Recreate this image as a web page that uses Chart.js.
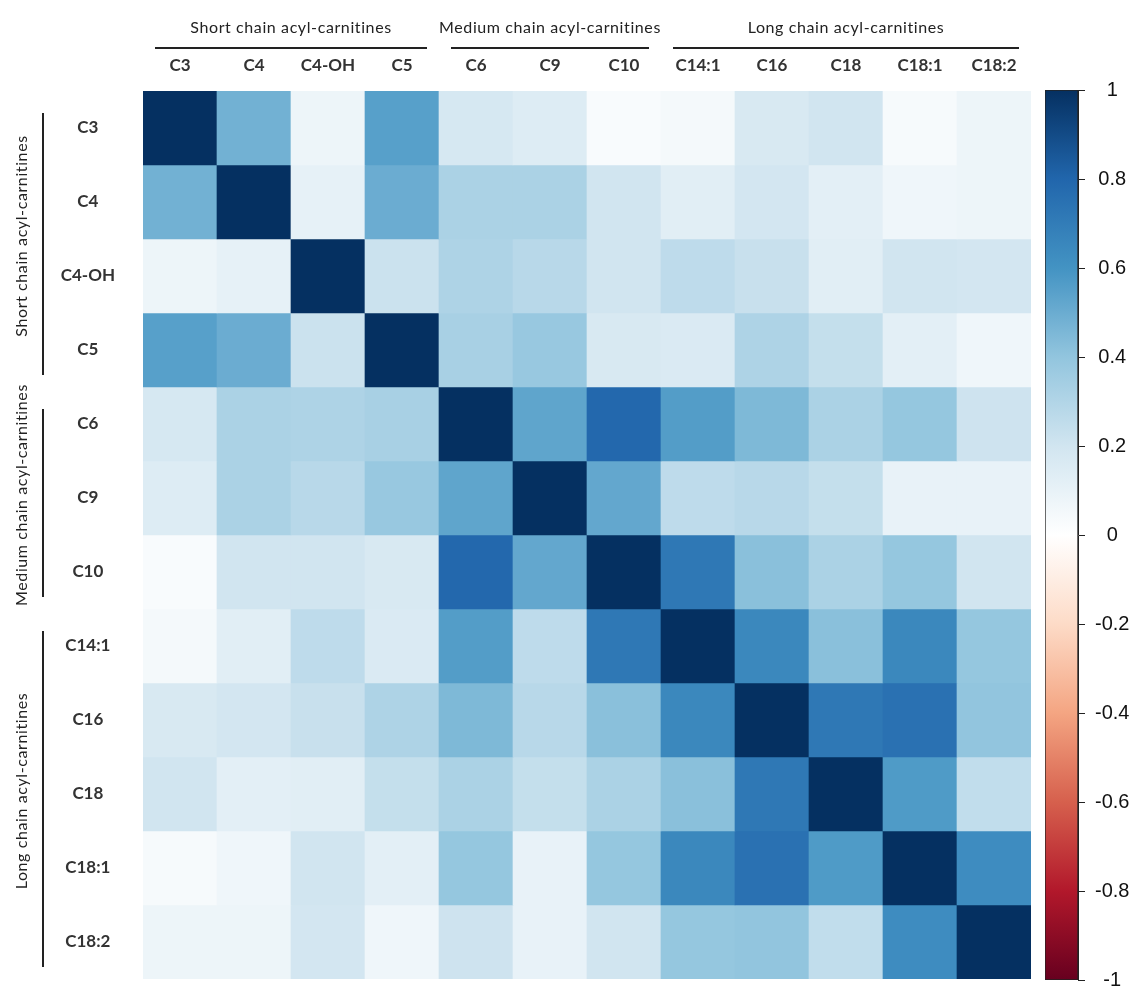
<!DOCTYPE html>
<html>
<head>
<meta charset="utf-8">
<script src="https://cdn.jsdelivr.net/npm/chart.js@4.4.1/dist/chart.umd.min.js"></script>
<style>
  html, body { margin: 0; padding: 0; background: #fff; }
  #wrap { position: relative; width: 1142px; height: 988px; }
  #heat { position: absolute; left: 0; top: 0; }
  #scaleBar { position: absolute; left: 1030px; top: 0; }
</style>
</head>
<body>
<div id="wrap">
  <canvas id="heat" width="1142" height="988"></canvas>
  <canvas id="scaleBar" width="112" height="988"></canvas>
</div>
<script>
// Metabolite names (same order for rows and columns).
const labels = ['C3', 'C4', 'C4-OH', 'C5', 'C6', 'C9', 'C10', 'C14:1', 'C16', 'C18', 'C18:1', 'C18:2'];

// Correlation values, one array per row.
const rowC3    = [1.00, 0.48, 0.08, 0.55, 0.18, 0.15, 0.03, 0.05, 0.17, 0.20, 0.04, 0.08];
const rowC4    = [0.48, 1.00, 0.11, 0.50, 0.32, 0.32, 0.20, 0.13, 0.19, 0.12, 0.07, 0.08];
const rowC4OH  = [0.08, 0.11, 1.00, 0.22, 0.31, 0.28, 0.20, 0.26, 0.23, 0.13, 0.20, 0.19];
const rowC5    = [0.55, 0.50, 0.22, 1.00, 0.33, 0.38, 0.17, 0.16, 0.31, 0.24, 0.12, 0.07];
const rowC6    = [0.18, 0.32, 0.31, 0.33, 1.00, 0.53, 0.79, 0.56, 0.45, 0.32, 0.39, 0.21];
const rowC9    = [0.15, 0.32, 0.28, 0.38, 0.53, 1.00, 0.52, 0.26, 0.28, 0.24, 0.10, 0.10];
const rowC10   = [0.03, 0.20, 0.20, 0.17, 0.79, 0.52, 1.00, 0.72, 0.42, 0.32, 0.39, 0.20];
const rowC14_1 = [0.05, 0.13, 0.26, 0.16, 0.56, 0.26, 0.72, 1.00, 0.65, 0.42, 0.65, 0.39];
const rowC16   = [0.17, 0.19, 0.23, 0.31, 0.45, 0.28, 0.42, 0.65, 1.00, 0.72, 0.75, 0.40];
const rowC18   = [0.20, 0.12, 0.13, 0.24, 0.32, 0.24, 0.32, 0.42, 0.72, 1.00, 0.57, 0.25];
const rowC18_1 = [0.04, 0.07, 0.20, 0.12, 0.39, 0.10, 0.39, 0.65, 0.75, 0.57, 1.00, 0.63];
const rowC18_2 = [0.08, 0.08, 0.19, 0.07, 0.21, 0.10, 0.20, 0.39, 0.40, 0.25, 0.63, 1.00];

// Groups of metabolites (first and last index of each group).
const groupNames = ['Short chain acyl-carnitines', 'Medium chain acyl-carnitines', 'Long chain acyl-carnitines'];
const groupFirst = [0, 4, 7];
const groupLast = [3, 6, 11];

// Colour legend tick labels.
const legendTicks = [1, 0.8, 0.6, 0.4, 0.2, 0, -0.2, -0.4, -0.6, -0.8, -1];

// Red-white-blue palette, from -1 to 1.
const paletteStops = ['#67001F', '#B2182B', '#D6604D', '#F4A582', '#FDDBC7', '#FFFFFF',
                      '#D1E5F0', '#92C5DE', '#4393C3', '#2166AC', '#053061'];

const rows = [rowC3, rowC4, rowC4OH, rowC5, rowC6, rowC9, rowC10, rowC14_1, rowC16, rowC18, rowC18_1, rowC18_2];

function hexToRgb(hex) {
    const n = parseInt(hex.slice(1), 16);
    return [(n >> 16) & 255, (n >> 8) & 255, n & 255];
}

// Map a correlation value to a colour of the palette.
function corrColor(v) {
    const t = (v + 1) / 2 * (paletteStops.length - 1);
    const i = Math.min(Math.floor(t), paletteStops.length - 2);
    const f = t - i;
    const a = hexToRgb(paletteStops[i]);
    const b = hexToRgb(paletteStops[i + 1]);
    const c = a.map((x, k) => Math.round(x + (b[k] - x) * f));
    return 'rgb(' + c.join(',') + ')';
}

// Group labels and brackets, placed from the scales.
const groupPlugin = {
    id: 'groups',
    afterDraw(chart) {
        const ctx = chart.ctx;
        const xs = chart.scales.x;
        const ys = chart.scales.y;
        const half = (xs.getPixelForValue(1) - xs.getPixelForValue(0)) / 2;
        ctx.save();
        ctx.strokeStyle = '#222';
        ctx.fillStyle = '#222';
        ctx.lineWidth = 2;
        ctx.font = '16px Lato';
        ctx.letterSpacing = '0.6px';
        ctx.textAlign = 'center';
        ctx.textBaseline = 'middle';
        groupNames.forEach((name, g) => {
            // top bracket
            const x0 = xs.getPixelForValue(groupFirst[g]) - half + 12;
            const x1 = xs.getPixelForValue(groupLast[g]) + half - 12;
            ctx.beginPath();
            ctx.moveTo(x0, 48);
            ctx.lineTo(x1, 48);
            ctx.stroke();
            ctx.fillText(name, (x0 + x1) / 2, 28);

            // left bracket
            const y0 = ys.getPixelForValue(groupFirst[g]) + 22;
            const y1 = ys.getPixelForValue(groupLast[g] + 1) - 12;
            ctx.beginPath();
            ctx.moveTo(43, y0);
            ctx.lineTo(43, y1);
            ctx.stroke();
            ctx.save();
            ctx.translate(22, (y0 + y1) / 2 - 8);
            ctx.rotate(-Math.PI / 2);
            ctx.fillText(name, 0, 0);
            ctx.restore();
        });
        ctx.restore();
    }
};

// Heatmap: each row is a dataset of floating bars from r to r + 1.
new Chart(document.getElementById('heat').getContext('2d'), {
    type: 'bar',
    data: {
        labels: labels,
        datasets: rows.map((vals, r) => ({
            label: labels[r],
            data: labels.map(() => [r, r + 1]),
            backgroundColor: vals.map(corrColor),
            borderWidth: 0,
            grouped: false,
            barPercentage: 1,
            categoryPercentage: 1
        }))
    },
    options: {
        responsive: false,
        animation: false,
        layout: { padding: { left: 0, top: 0, right: 111, bottom: 9 } },
        scales: {
            x: {
                position: 'top',
                grid: { display: false },
                border: { display: false },
                ticks: {
                    color: '#333',
                    font: { family: 'Lato', size: 17, weight: 'bold' },
                    padding: 7,
                    maxRotation: 0,
                    autoSkip: false
                },
                afterFit: s => { s.height = 91; s.paddingLeft = 0; s.paddingRight = 0; }
            },
            y: {
                type: 'linear',
                min: 0,
                max: labels.length,
                reverse: true,
                grid: { display: false },
                border: { display: false },
                afterBuildTicks: s => { s.ticks = labels.map((_, i) => ({ value: i + 0.5 })); },
                ticks: {
                    color: '#333',
                    font: { family: 'Lato', size: 17, weight: 'bold' },
                    padding: 20,
                    crossAlign: 'center',
                    autoSkip: false,
                    callback: v => labels[Math.floor(v)]
                },
                afterFit: s => { s.width = 143; s.paddingTop = 0; s.paddingBottom = 0; }
            }
        },
        plugins: {
            legend: { display: false },
            tooltip: { enabled: false }
        }
    },
    plugins: [groupPlugin]
});

// Colour legend: one floating bar from -1 to 1 filled with the palette.
new Chart(document.getElementById('scaleBar').getContext('2d'), {
    type: 'bar',
    data: {
        labels: [''],
        datasets: [{
            data: [[-1, 1]],
            backgroundColor: c => {
                const area = c.chart.chartArea;
                if (!area) return null;
                const grad = c.chart.ctx.createLinearGradient(0, area.bottom, 0, area.top);
                paletteStops.forEach((col, i) => grad.addColorStop(i / (paletteStops.length - 1), col));
                return grad;
            },
            borderColor: '#222',
            borderWidth: 1,
            borderSkipped: false,
            barPercentage: 1,
            categoryPercentage: 1
        }]
    },
    options: {
        responsive: false,
        animation: false,
        layout: { padding: { left: 15, top: 90, right: 0, bottom: 8 } },
        scales: {
            x: { display: false },
            y: {
                position: 'right',
                min: -1,
                max: 1,
                afterBuildTicks: s => { s.ticks = legendTicks.map(v => ({ value: v })); },
                grid: { drawOnChartArea: false, tickLength: 7, color: '#222' },
                border: { color: '#222' },
                ticks: {
                    color: '#111',
                    font: { family: 'Liberation Sans', size: 20 },
                    padding: 10,
                    crossAlign: 'center',
                    autoSkip: false,
                    callback: v => String(v)
                },
                afterFit: s => { s.width = 64; s.paddingTop = 0; s.paddingBottom = 0; }
            }
        },
        plugins: {
            legend: { display: false },
            tooltip: { enabled: false }
        }
    }
});
</script>
</body>
</html>
